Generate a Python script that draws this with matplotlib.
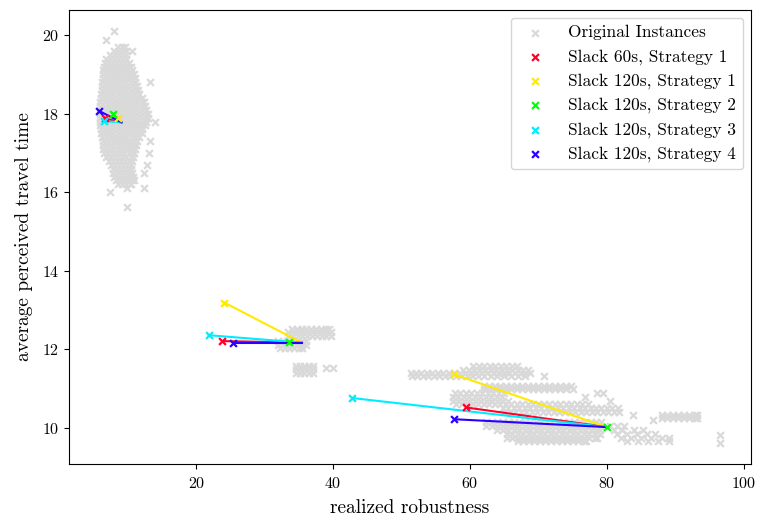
import numpy as np
import matplotlib
matplotlib.use("Agg")
import matplotlib.pyplot as plt

plt.rcParams['font.family'] = ['cmr10', 'DejaVu Serif']
plt.rcParams['mathtext.fontset'] = 'cm'
plt.rcParams['axes.formatter.use_mathtext'] = True

# ---------------- data ----------------
# Original instances (grey cloud), read row by row: (y, x values)
cloud_top_rows = [
    (20.10, "8.0"),
    (19.87, "6.8"),
    (19.70, "8.5 9.1 9.6"),
    (19.60, "8.0 8.6 9.2 9.7 10.6"),
    (19.50, "7.4 8.0 8.6 9.2 9.8"),
    (19.40, "6.8 7.4 8.0 8.6 9.2 9.8"),
    (19.30, "6.6 7.2 7.8 8.4 9.0 9.6 10.1"),
    (19.20, "6.5 7.1 7.7 8.3 8.9 9.5 10.1 10.4"),
    (19.10, "6.4 7.0 7.6 8.2 8.8 9.4 10.0 10.6"),
    (19.00, "6.3 6.9 7.5 8.1 8.7 9.3 9.9 10.5 10.9"),
    (18.90, "6.3 6.9 7.5 8.1 8.7 9.3 9.9 10.5 11.0"),
    (18.80, "6.2 6.8 7.4 8.0 8.6 9.2 9.8 10.4 11.0 13.3"),
    (18.70, "6.2 6.8 7.4 8.0 8.6 9.2 9.8 10.4 11.0 11.3"),
    (18.60, "6.2 6.8 7.4 8.0 8.6 9.2 9.8 10.4 11.0 11.5"),
    (18.50, "6.1 6.7 7.3 7.9 8.5 9.1 9.7 10.3 10.9 11.5 11.7"),
    (18.40, "6.1 6.7 7.3 7.9 8.5 9.1 9.7 10.3 10.9 11.5 12.0"),
    (18.30, "6.0 6.6 7.2 7.8 8.4 9.0 9.6 10.2 10.8 11.4 12.0 12.3"),
    (18.20, "6.0 6.6 7.2 7.8 8.4 9.0 9.6 10.2 10.8 11.4 12.0 12.5"),
    (18.10, "6.0 6.6 7.2 7.8 8.4 9.0 9.6 10.2 10.8 11.4 12.0 12.6"),
    (18.00, "6.0 6.6 7.2 7.8 8.4 9.0 9.6 10.2 10.8 11.4 12.0 12.6 12.9"),
    (17.90, "6.0 6.6 7.2 7.8 8.4 9.0 9.6 10.2 10.8 11.4 12.0 12.6 13.0"),
    (17.80, "6.0 6.6 7.2 7.8 8.4 9.0 9.6 10.2 10.8 11.4 12.0 12.6 14.0"),
    (17.70, "6.0 6.6 7.2 7.8 8.4 9.0 9.6 10.2 10.8 11.4 12.0 12.5"),
    (17.60, "6.1 6.7 7.3 7.9 8.5 9.1 9.7 10.3 10.9 11.5 12.1"),
    (17.50, "6.1 6.7 7.3 7.9 8.5 9.1 9.7 10.3 10.9 11.5 12.0"),
    (17.40, "6.2 6.8 7.4 8.0 8.6 9.2 9.8 10.4 11.0 11.6"),
    (17.30, "6.3 6.9 7.5 8.1 8.7 9.3 9.9 10.5 11.1 11.4 13.3"),
    (17.20, "6.4 7.0 7.6 8.2 8.8 9.4 10.0 10.6 11.2"),
    (17.10, "6.4 7.0 7.6 8.2 8.8 9.4 10.0 10.6 11.0"),
    (17.00, "6.5 7.1 7.7 8.3 8.9 9.5 10.1 10.7 10.9 13.1"),
    (16.90, "6.8 7.4 8.0 8.6 9.2 9.8 10.4 10.8"),
    (16.80, "7.2 7.8 8.4 9.0 9.6 10.2 10.6"),
    (16.70, "7.5 8.1 8.7 9.3 9.9 10.5 12.8"),
    (16.60, "7.8 8.4 9.0 9.6 10.2 10.4"),
    (16.50, "7.9 8.5 9.1 9.7 10.3 10.6 12.4"),
    (16.40, "8.0 8.6 9.2 9.8 10.4 10.8"),
    (16.30, "8.2 8.8 9.4 10.0 10.6 10.9"),
    (16.20, "8.5 9.1 9.7 10.3 10.5"),
    (16.10, "9.9 12.4"),
    (16.00, "7.4"),
    (15.62, "9.9"),
]

cloud_mid_rows = [
    (12.52, "34.0 34.7 35.4 36.1 36.8 37.5 38.2 38.9 39.4"),
    (12.43, "33.4 34.1 34.8 35.5 36.2 36.9 37.6 38.3 39.0 39.7"),
    (12.34, "33.4 34.1 34.8 35.5 36.2 36.9 37.6 38.3 39.0 39.7"),
    (12.22, "31.9 32.6 33.3 34.0 34.7 35.4 36.0"),
    (12.12, "31.9 32.6 33.3 34.0 34.7 35.4 36.0"),
    (12.03, "32.2 32.9 33.6 34.3 35.0 35.5"),
    (11.58, "34.6 35.2 35.8 36.4 37.0"),
    (11.53, "39.0 40.0"),
    (11.49, "34.6 35.2 35.8 36.4 37.0"),
    (11.40, "34.6 35.2 35.8 36.4 37.0"),
]

cloud_low_rows = [
    (11.58, "60.5 61.3 62.1 62.9 63.7 64.5 65.3 66.1 66.9"),
    (11.48, "59.0 59.8 60.6 61.4 62.2 63.0 63.8 64.6 65.4 66.2 67.0 67.8 68.5"),
    (11.40, "51.3 52.1 52.9 53.7 54.5 55.3 56.1 56.9 57.7 58.5 59.3 60.1 60.9 61.7 62.5 63.3 64.1 64.9 65.7 66.5 67.3 68.1 68.7"),
    (11.32, "51.5 52.3 53.1 53.9 54.7 55.5 56.3 57.1 57.9 58.7 59.5 60.3 61.1 62.0 63.0 64.0 65.0 66.0 67.0 68.0 70.8"),
    (11.07, "62.0 62.8 63.6 64.4 65.2 66.0 66.8 67.6 68.4 69.2 70.0 70.8 71.6 72.4 73.2 74.0 74.8"),
    (10.98, "62.0 62.8 63.6 64.4 65.2 66.0 66.8 67.6 68.4 69.2 70.0 70.8 71.6 72.4 73.2 74.0 75.0"),
    (10.88, "57.8 58.6 59.4 60.2 61.0 61.8 62.6 63.4 64.2 65.0 78.5 79.4"),
    (10.78, "57.5 58.3 59.1 59.9 60.7 61.5 62.3 63.1 63.9 64.7 76.8"),
    (10.68, "57.5 58.3 59.1 59.9 60.7 61.5 62.3 63.1 63.9 64.7 65.5 80.4"),
    (10.60, "58.0 58.8 59.6 60.4 61.2 62.0 62.8 63.6 64.4 65.2 66.0 66.8 67.6 68.4 69.2 70.0 70.8 71.6 72.4 73.2 74.0 74.8 75.6 76.4 77.2"),
    (10.50, "64.8 65.6 66.4 67.2 68.0 68.8 69.6 70.4 71.2 72.0 72.8 73.6 74.4 75.2 76.0 76.8 77.6 78.4 79.2 80.0 80.8 81.6"),
    (10.40, "65.0 65.8 66.6 67.4 68.2 69.0 69.8 70.6 71.4 72.2 73.0 73.8 74.6 75.4 76.2 77.0 77.8 78.6 79.4 80.2 81.0 81.8"),
    (10.32, "83.8 88.0 88.8 89.6 90.4 91.2 92.0 92.8 93.1"),
    (10.24, "88.0 88.8 89.6 90.4 91.2 92.0 92.8 93.1"),
    (10.20, "86.7"),
    (10.15, "62.4 63.2 64.0 64.8 65.6 66.4 67.2 68.0 68.8 69.6 70.4 71.2 72.0 72.8 73.6 74.4 75.2 76.0 76.8 77.6 78.4 79.2"),
    (10.05, "62.4 63.2 64.0 64.8 65.6 66.4 67.2 68.0 68.8 69.6 70.4 71.2 72.0 72.8 73.6 74.4 75.2 76.0 76.8 77.6 78.4 79.2 80.5 81.5 82.5"),
    (9.95, "64.0 64.8 65.6 66.4 67.2 68.0 68.8 69.6 70.4 71.2 72.0 72.8 73.6 74.4 75.2 76.0 76.8 77.6 78.4 79.0 81.0 82.2 84.0 85.2"),
    (9.85, "65.4 66.2 67.0 67.8 68.6 69.4 70.2 71.0 71.8 72.6 73.4 74.2 75.0 75.8 76.6 77.4 78.2 79.0 81.5 83.0 84.4 85.8 87.0"),
    (9.82, "96.5"),
    (9.75, "65.4 66.2 67.0 67.8 68.6 69.4 70.2 71.0 71.8 72.6 73.4 74.2 75.0 75.8 76.6 77.4 78.2 78.6 82.0 83.5 85.0 86.5 88.0 89.1"),
    (9.67, "67.0 67.8 68.6 69.4 70.2 71.0 71.8 72.6 73.4 74.2 75.0 75.8 76.6 77.0 83.0 84.5 86.0 87.5 89.0"),
    (9.62, "96.5"),
]

# Strategies: marker positions for the three instances and their original instance
labels = ["Slack 60s, Strategy 1", "Slack 120s, Strategy 1", "Slack 120s, Strategy 2",
          "Slack 120s, Strategy 3", "Slack 120s, Strategy 4"]
origin_x = [9.07, 35.4, 80.0]
origin_y = [17.78, 12.17, 10.02]
s60_s1_x = [6.6, 23.8, 59.4]
s60_s1_y = [17.88, 12.21, 10.52]
s120_s1_x = [8.5, 24.1, 57.7]
s120_s1_y = [17.90, 13.19, 11.36]
s120_s2_x = [7.8, 33.5, 80.0]
s120_s2_y = [18.00, 12.18, 10.03]
s120_s3_x = [6.5, 21.8, 42.8]
s120_s3_y = [17.81, 12.36, 10.76]
s120_s4_x = [5.8, 25.3, 57.7]
s120_s4_y = [18.07, 12.17, 10.22]
strat_x = [s60_s1_x, s120_s1_x, s120_s2_x, s120_s3_x, s120_s4_x]
strat_y = [s60_s1_y, s120_s1_y, s120_s2_y, s120_s3_y, s120_s4_y]

x_ticks = [20, 40, 60, 80, 100]
y_ticks = [10, 12, 14, 16, 18, 20]

# ---------------- plotting ----------------
def expand(rows):
    xs, ys = [], []
    for y, row in rows:
        for v in row.split():
            xs.append(float(v))
            ys.append(y)
    return xs, ys

cx, cy = [], []
for rows in (cloud_top_rows, cloud_mid_rows, cloud_low_rows):
    a, b = expand(rows)
    cx += a
    cy += b

fig = plt.figure(figsize=(7.62, 5.20), dpi=100)
ax = fig.add_axes([69/762, 1 - 464/520, (751 - 69)/762, (464 - 10)/520])

msize = 24
ax.scatter(cx, cy, marker='x', s=msize, color='#d9d9d9', linewidths=1.6,
           label='Original Instances', zorder=1)

cmap = plt.get_cmap('gist_rainbow')
colors = [cmap(v) for v in [0.0, 0.2, 0.4, 0.6, 0.8]]

for sx, sy, c in zip(strat_x, strat_y, colors):
    for x0, y0, x1, y1 in zip(sx, sy, origin_x, origin_y):
        ax.plot([x0, x1], [y0, y1], color=c, lw=1.5, zorder=2)
for sx, sy, c, lab in zip(strat_x, strat_y, colors, labels):
    ax.scatter(sx, sy, marker='x', s=msize, color=c, linewidths=1.6, label=lab, zorder=3)

ax.set_xlim(1.4, 101.05)
ax.set_ylim(9.08, 20.64)
ax.set_xticks(x_ticks)
ax.set_yticks(y_ticks)
ax.tick_params(labelsize=11.5)
ax.tick_params(axis='x', pad=5)
ax.set_xlabel('realized robustness', fontsize=14, labelpad=6)
ax.set_ylabel('average perceived travel time', fontsize=14, labelpad=6)
ax.legend(loc='upper right', fontsize=12.5, scatterpoints=1, handletextpad=0.9,
          borderaxespad=0.45)

fig.savefig('out.png', dpi=100)
